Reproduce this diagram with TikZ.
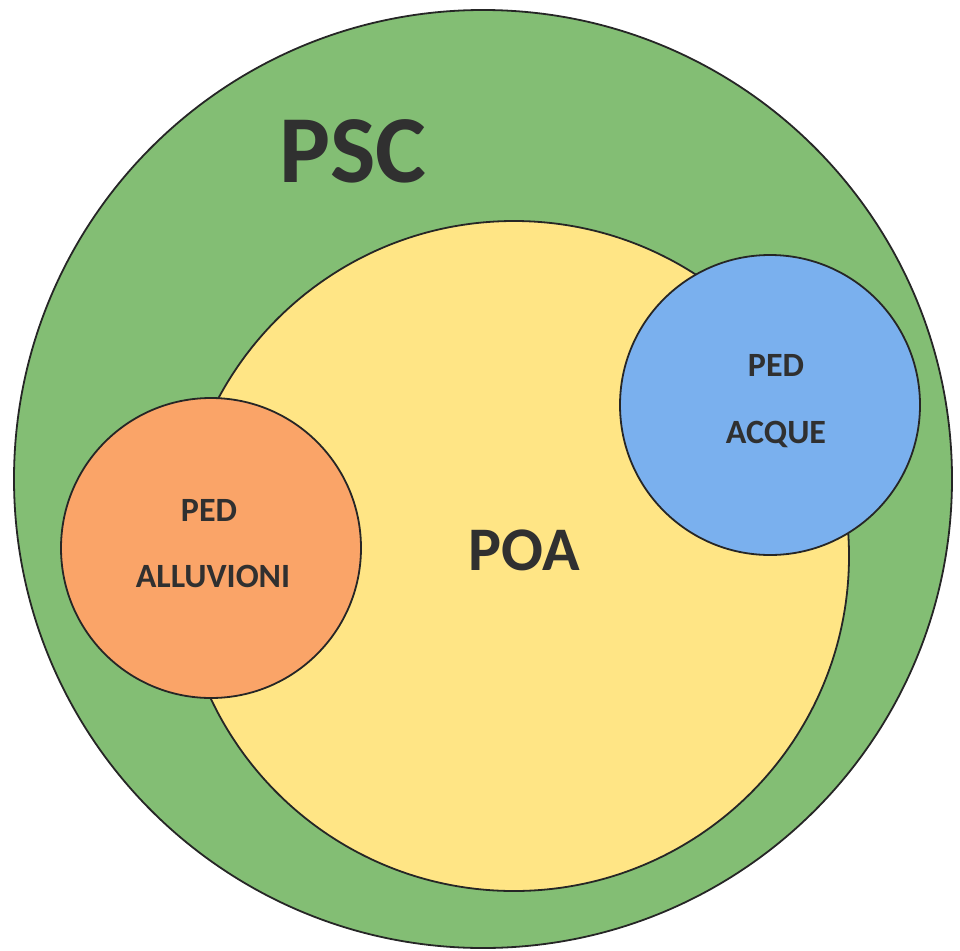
\documentclass[tikz,border=0pt]{standalone}
\usepackage{fontspec}
\setmainfont{Carlito}
\usetikzlibrary{positioning}
\definecolor{pscgreen}{RGB}{131,190,116}
\definecolor{poayellow}{RGB}{255,229,133}
\definecolor{pedorange}{RGB}{250,164,104}
\definecolor{pedblue}{RGB}{122,176,238}
\definecolor{labelgray}{RGB}{48,48,48}
\tikzset {
  every node/.style={font=\bfseries, text=labelgray},
  set/.style={line width=1.8pt, draw=black!85},
}

\begin{document}
\begin{tikzpicture}[x=1pt,y=-1pt]
  \useasboundingbox (0,0) rectangle (960,950);
  \coordinate (psc) at (483,479);
  \coordinate (poa) at (514,556);
  \coordinate (alluvioni) at (211,548);
  \coordinate (acque) at (770,405);

  \filldraw[set,fill=pscgreen] (psc) circle[radius=469];
  \filldraw[set,fill=poayellow] (poa) circle[radius=335];
  \filldraw[set,fill=pedorange] (alluvioni) circle[radius=150];
  \filldraw[set,fill=pedblue] (acque) circle[radius=150];

  \node[font=\fontsize{96}{96}\selectfont\bfseries] (psclabel) at (353,151) {PSC};
  \node[font=\fontsize{62}{62}\selectfont\bfseries] (poalabel) at (524,550) {POA};
  \begin{scope}[every node/.append style={font=\fontsize{34}{34}\selectfont\bfseries}]
    \node (ped1) at (209,510) {PED};
    \node (ped1b) at (213,576) {ALLUVIONI};
    \node (ped2) at (776,365) {PED};
    \node (ped2b) at (776,434) {ACQUE};
  \end{scope}
\end{tikzpicture}
\end{document}
